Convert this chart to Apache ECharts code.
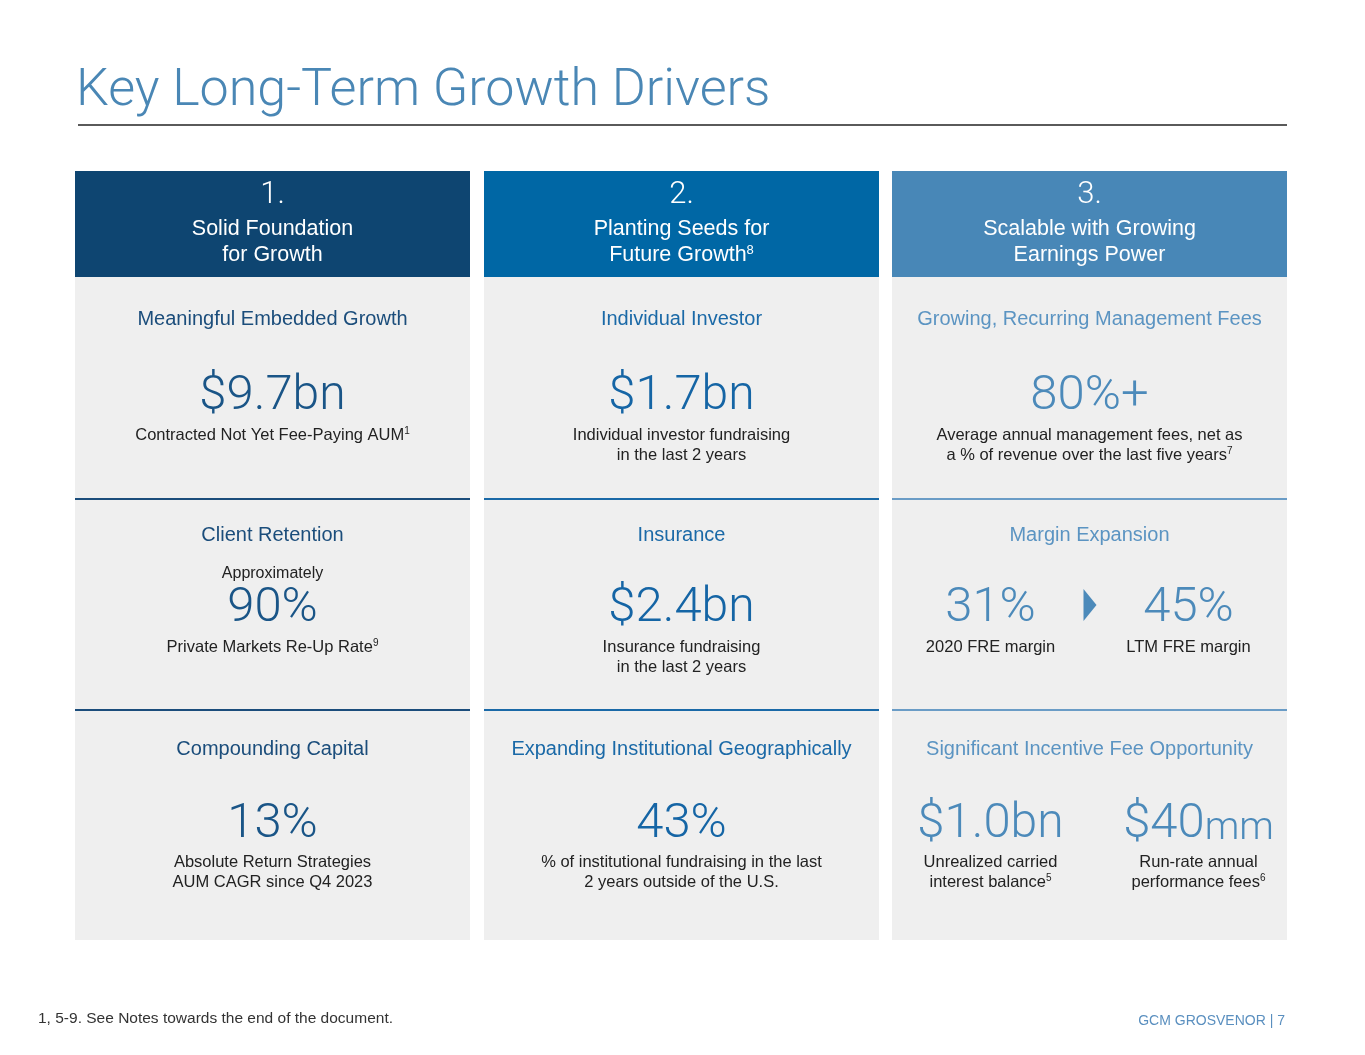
<!DOCTYPE html>
<html>
<head>
<meta charset="utf-8">
<script src="https://cdn.jsdelivr.net/npm/echarts@6/dist/echarts.min.js"></script>
<style>
html,body{margin:0;padding:0;background:#fff;}
#main{width:1365px;height:1055px;}
</style>
</head>
<body>
<div id="main"></div>
<script>
// ---------- data ----------
const pageTitle = 'Key Long-Term Growth Drivers';
const columnNumbers = ['1.', '2.', '3.'];
const columnTitles = ['Solid Foundation\nfor Growth', 'Planting Seeds for\nFuture Growth^8', 'Scalable with Growing\nEarnings Power'];
const rowHeadings = [
  ['Meaningful Embedded Growth', 'Client Retention', 'Compounding Capital'],
  ['Individual Investor', 'Insurance', 'Expanding Institutional Geographically'],
  ['Growing, Recurring Management Fees', 'Margin Expansion', 'Significant Incentive Fee Opportunity']
];
const metricPrefixes = [
  ['', 'Approximately', ''],
  ['', '', ''],
  ['', '', '']
];
const metricValues = [
  [['$9.7'], ['90%'], ['13%']],
  [['$1.7'], ['$2.4'], ['43%']],
  [['80%+'], ['31%', '45%'], ['$1.0', '$40']]
];
const metricUnits = [
  [['bn'], [''], ['']],
  [['bn'], ['bn'], ['']],
  [[''], ['', ''], ['bn', 'mm']]
];
const metricNotes = [
  [['Contracted Not Yet Fee-Paying AUM^1'], ['Private Markets Re-Up Rate^9'], ['Absolute Return Strategies\nAUM CAGR since Q4 2023']],
  [['Individual investor fundraising\nin the last 2 years'], ['Insurance fundraising\nin the last 2 years'], ['% of institutional fundraising in the last\n2 years outside of the U.S.']],
  [['Average annual management fees, net as\na % of revenue over the last five years^7'], ['2020 FRE margin', 'LTM FRE margin'], ['Unrealized carried\ninterest balance^5', 'Run-rate annual\nperformance fees^6']]
];
const footnote = '1, 5-9. See Notes towards the end of the document.';
const pageLabel = 'GCM GROSVENOR | 7';

// ---------- styling / layout ----------
const headerColors = ['#0e4571', '#0067a5', '#4887b7'];
const headingColors = ['#1b4d7b', '#1a69a7', '#5b94c2'];
const valueColors = ['#1a5587', '#1565a5', '#4c8aba'];
const lineColors = ['#1b4d7b', '#1a69a7', '#6a9cc6'];
const panelBg = '#efefef';
const colX = [75, 484, 892];
const colW = 395;
const headerTop = 171, headerBottom = 277, panelBottom = 940;
const rowTops = [277, 499, 710];
const rowY = [ // heading, prefix, value, note, pair offsets
  {head: 319, pre: 574, val: 395, note: 435, pair: [-99, 99]},
  {head: 535, pre: 574, val: 607, note: 647, pair: [-99, 99]},
  {head: 749, pre: 574, val: 823, note: 862, pair: [-99, 109]}
];
const FONT = '"Liberation Sans", Arial, Helvetica, sans-serif';
const LIGHT = 'Roboto, "Liberation Sans", Arial, sans-serif';

function rich(str, cls) {
  return str.split('\n').map(function (line) {
    let s = '{' + cls + '|' + line.replace(/\^(\d+)/g, '}{s|$1}{' + cls + '|') + '}';
    return s.replace(new RegExp('\\{' + cls + '\\|\\}', 'g'), '');
  }).join('\n');
}

const els = [];
// title
els.push({type: 'text', style: {text: pageTitle, x: 76, y: 92, textVerticalAlign: 'middle', fill: '#4a87b5', font: '300 52px ' + LIGHT}});
els.push({type: 'rect', shape: {x: 78, y: 124, width: 1209, height: 2}, style: {fill: '#5a5a5a'}});

for (let c = 0; c < 3; c++) {
  const x0 = colX[c], cx = x0 + colW / 2;
  els.push({type: 'rect', shape: {x: x0, y: headerTop, width: colW, height: headerBottom - headerTop}, style: {fill: headerColors[c]}});
  els.push({type: 'rect', shape: {x: x0, y: headerBottom, width: colW, height: panelBottom - headerBottom}, style: {fill: panelBg}});
  els.push({type: 'text', style: {text: columnNumbers[c], x: cx, y: 195, textAlign: 'center', textVerticalAlign: 'middle', fill: '#fff', font: '300 31px ' + LIGHT}});
  els.push({type: 'text', style: {
    text: rich(columnTitles[c], 't'), x: cx, y: 242, textAlign: 'center', textVerticalAlign: 'middle',
    rich: {t: {fontSize: 21.5, lineHeight: 26, fill: '#fff', fontFamily: FONT}, s: {fontSize: 13, lineHeight: 26, verticalAlign: 'top', fill: '#fff', fontFamily: FONT, padding: [2, 0, 0, 0]}}
  }});
  for (let r = 0; r < 3; r++) {
    if (r > 0) els.push({type: 'rect', shape: {x: x0, y: rowTops[r] - 1, width: colW, height: 2}, style: {fill: lineColors[c]}});
    const ly = rowY[r];
    els.push({type: 'text', style: {text: rowHeadings[c][r], x: cx, y: ly.head, textAlign: 'center', textVerticalAlign: 'middle', fill: headingColors[c], font: '20px ' + FONT}});
    if (metricPrefixes[c][r]) {
      els.push({type: 'text', style: {text: metricPrefixes[c][r], x: cx, y: ly.pre, textAlign: 'center', textVerticalAlign: 'middle', fill: '#222', font: '16px ' + FONT}});
    }
    const vals = metricValues[c][r];
    const n = vals.length;
    for (let k = 0; k < n; k++) {
      const mx = n === 1 ? cx : cx + ly.pair[k];
      const unit = metricUnits[c][r][k];
      const unitSize = unit === 'mm' ? 39 : 48;
      els.push({type: 'text', style: {
        text: '{v|' + vals[k] + '}' + (unit ? '{u|' + unit + '}' : ''), x: mx, y: ly.val, textAlign: 'center', textVerticalAlign: 'middle',
        rich: {v: {fontSize: 49, lineHeight: 52, fill: valueColors[c], fontFamily: LIGHT, fontWeight: 300, verticalAlign: 'bottom'},
               u: {fontSize: unitSize, lineHeight: 52, fill: valueColors[c], fontFamily: LIGHT, fontWeight: 300, verticalAlign: 'bottom'}}
      }});
      const note = metricNotes[c][r][k];
      const lines = note.split('\n').length;
      els.push({type: 'text', style: {
        text: rich(note, 't'), x: mx, y: ly.note + (lines - 1) * 10, textAlign: 'center', textVerticalAlign: 'middle',
        rich: {t: {fontSize: 16.5, lineHeight: 20, fill: '#222', fontFamily: FONT}, s: {fontSize: 10, lineHeight: 20, verticalAlign: 'top', fill: '#222', fontFamily: FONT, padding: [1, 0, 0, 0]}}
      }});
    }
    if (n === 2 && r === 1) {
      // arrow between the two margin figures
      els.push({type: 'polygon', shape: {points: [[cx - 6, ly.val - 18], [cx + 7, ly.val - 2], [cx - 6, ly.val + 14]]}, style: {fill: valueColors[c]}});
    }
  }
}
els.push({type: 'text', style: {text: footnote, x: 38, y: 1019, textVerticalAlign: 'middle', fill: '#333', font: '15.5px ' + FONT}});
els.push({type: 'text', style: {text: pageLabel, x: 1285, y: 1021, textAlign: 'right', textVerticalAlign: 'middle', fill: '#5a8fbf', font: '14px ' + FONT}});

const chart = echarts.init(document.getElementById('main'), null, {renderer: 'canvas'});
chart.setOption({backgroundColor: '#ffffff', animation: false, graphic: {elements: els}});
</script>
</body>
</html>
